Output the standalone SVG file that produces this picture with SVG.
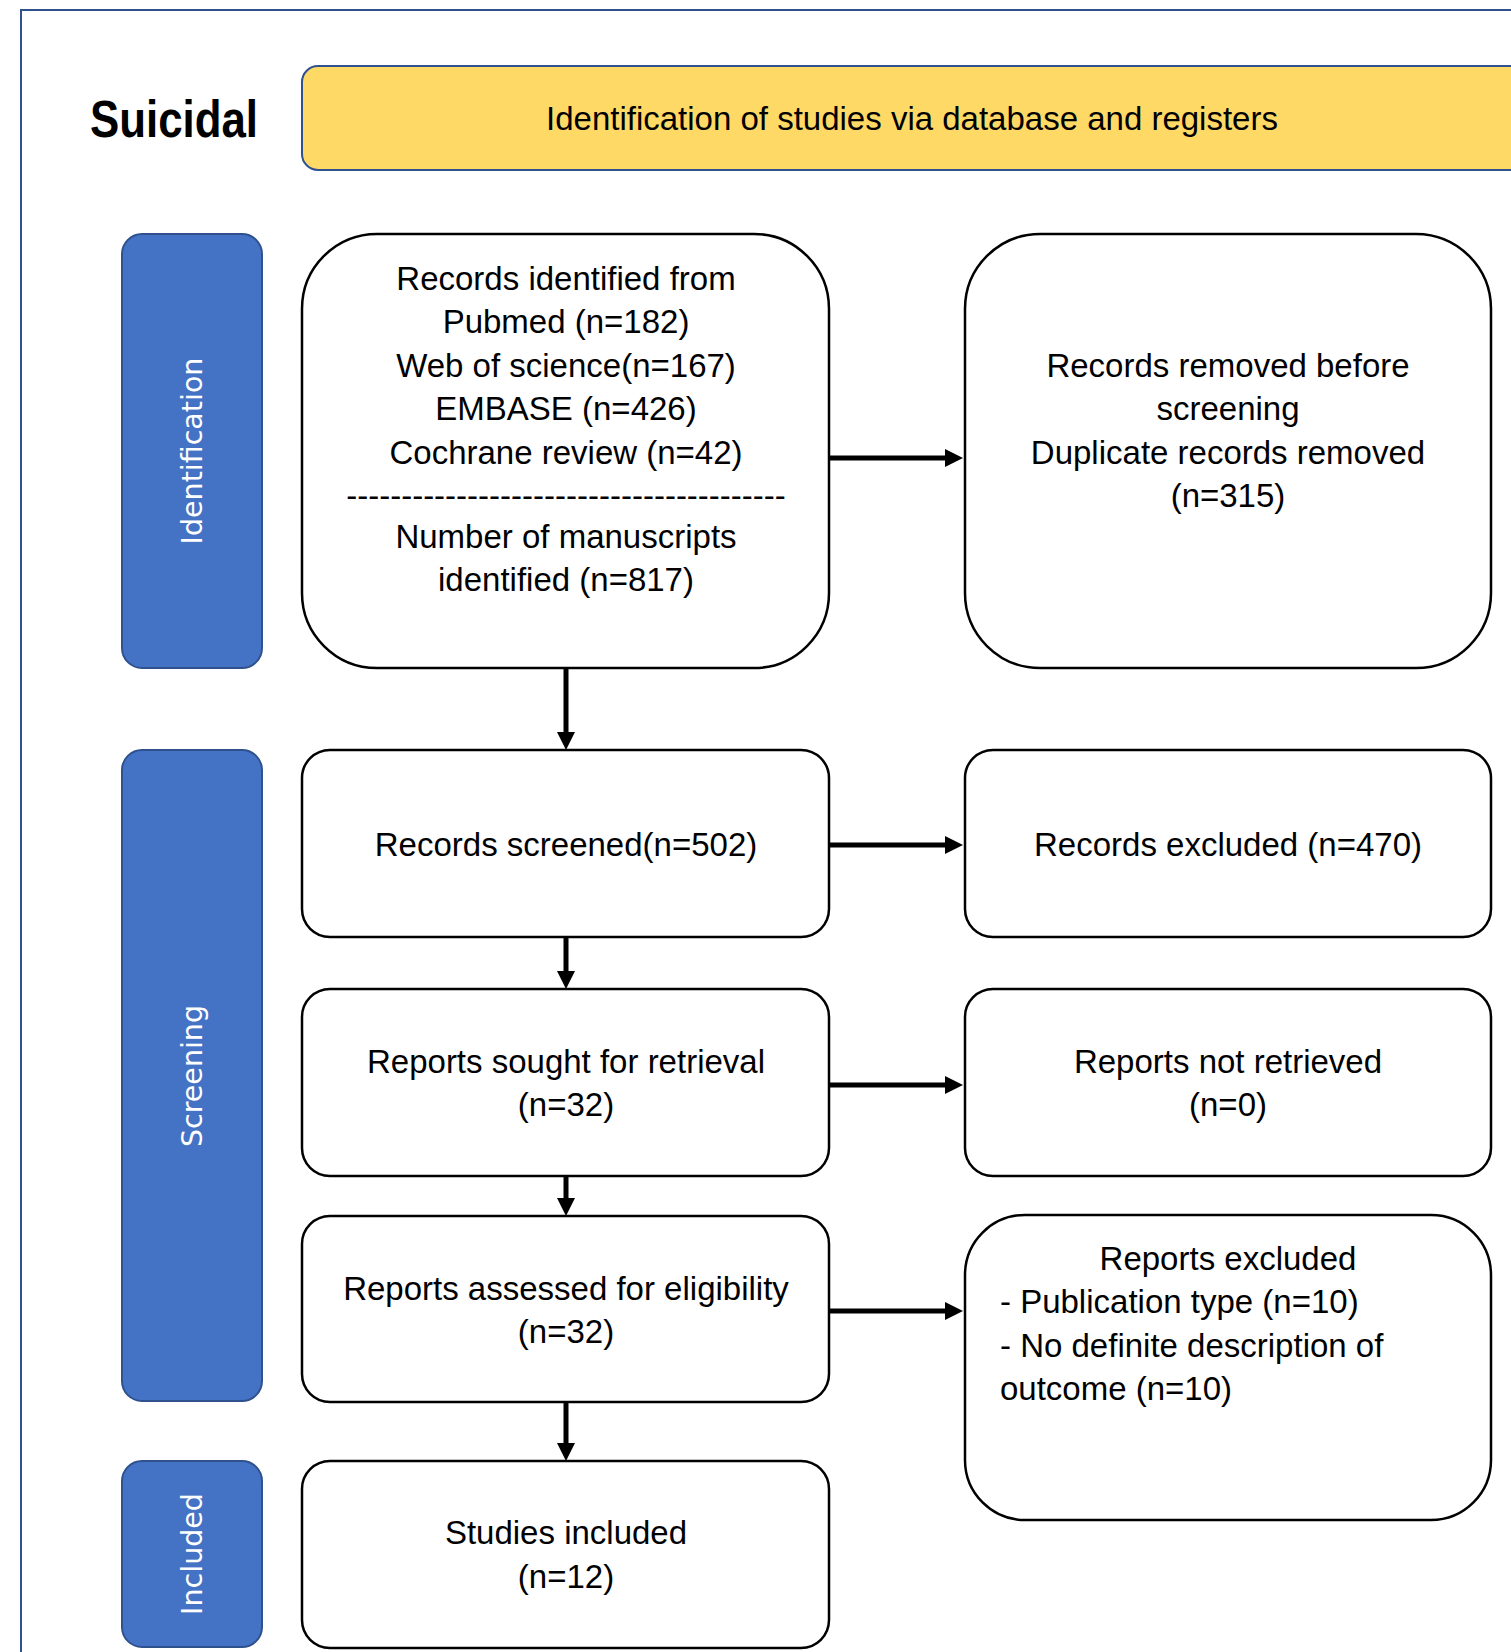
<svg xmlns="http://www.w3.org/2000/svg" width="1511" height="1652" viewBox="0 0 1511 1652">
<style>
.t{font-family:"Liberation Sans",Arial,sans-serif;font-size:33px;fill:#000}
.c{text-anchor:middle}
.box{fill:#fff;stroke:#000;stroke-width:2.5}
.side{fill:#4472C4;stroke:#2F528F;stroke-width:2}
.st{font-family:"DejaVu Sans",sans-serif;font-size:28.5px;fill:#fff;text-anchor:middle}
.conn{stroke:#000;stroke-width:5;fill:none}
</style>
<defs>
<marker id="ah" markerUnits="userSpaceOnUse" markerWidth="18" markerHeight="18" refX="1" refY="9" orient="auto">
<path d="M0,0 L18,9 L0,18 z" fill="#000"/>
</marker>
</defs>
<rect x="0" y="0" width="1511" height="1652" fill="#fff"/>
<rect x="21" y="10" width="1600" height="1700" fill="none" stroke="#2F528F" stroke-width="2"/>
<g id="title">
<text x="174" y="137" text-anchor="middle" font-family="Liberation Sans,Arial,sans-serif" font-weight="bold" font-size="52" textLength="168" lengthAdjust="spacingAndGlyphs">Suicidal</text>
</g>
<g id="header">
<rect x="302" y="66" width="1260" height="104" rx="16" fill="#FFD966" stroke="#2F528F" stroke-width="2"/>
<text class="t c" x="912" y="130">Identification of studies via database and registers</text>
</g>
<g id="side-identification">
<rect class="side" x="122" y="234" width="140" height="434" rx="20"/>
<text class="st" transform="translate(202,451) rotate(-90)">Identification</text>
</g>
<g id="side-screening">
<rect class="side" x="122" y="750" width="140" height="651" rx="20"/>
<text class="st" transform="translate(202,1076) rotate(-90)">Screening</text>
</g>
<g id="side-included">
<rect class="side" x="122" y="1461" width="140" height="186" rx="20"/>
<text class="st" transform="translate(202,1554) rotate(-90)">Included</text>
</g>
<g id="records-identified">
<rect class="box" x="302" y="234" width="527" height="434" rx="75"/>
<text class="t c" x="566" y="290">Records identified from</text>
<text class="t c" x="566" y="333.4">Pubmed (n=182)</text>
<text class="t c" x="566" y="376.8">Web of science(n=167)</text>
<text class="t c" x="566" y="420.2">EMBASE (n=426)</text>
<text class="t c" x="566" y="463.6">Cochrane review (n=42)</text>
<text class="t c" x="566" y="507">----------------------------------------</text>
<text class="t c" x="566" y="548">Number of manuscripts</text>
<text class="t c" x="566" y="591.4">identified (n=817)</text>
</g>
<g id="records-removed">
<rect class="box" x="965" y="234" width="526" height="434" rx="75"/>
<text class="t c" x="1228" y="376.8">Records removed before</text>
<text class="t c" x="1228" y="420.2">screening</text>
<text class="t c" x="1228" y="463.6">Duplicate records removed</text>
<text class="t c" x="1228" y="507">(n=315)</text>
</g>
<g id="records-screened">
<rect class="box" x="302" y="750" width="527" height="187" rx="28"/>
<text class="t c" x="566" y="856">Records screened(n=502)</text>
</g>
<g id="records-excluded">
<rect class="box" x="965" y="750" width="526" height="187" rx="28"/>
<text class="t c" x="1228" y="856">Records excluded (n=470)</text>
</g>
<g id="reports-sought">
<rect class="box" x="302" y="989" width="527" height="187" rx="28"/>
<text class="t c" x="566" y="1073">Reports sought for retrieval</text>
<text class="t c" x="566" y="1116">(n=32)</text>
</g>
<g id="reports-not-retrieved">
<rect class="box" x="965" y="989" width="526" height="187" rx="28"/>
<text class="t c" x="1228" y="1073">Reports not retrieved</text>
<text class="t c" x="1228" y="1116">(n=0)</text>
</g>
<g id="reports-assessed">
<rect class="box" x="302" y="1216" width="527" height="186" rx="28"/>
<text class="t c" x="566" y="1300">Reports assessed for eligibility</text>
<text class="t c" x="566" y="1343">(n=32)</text>
</g>
<g id="reports-excluded">
<rect class="box" x="965" y="1215" width="526" height="305" rx="60"/>
<text class="t c" x="1228" y="1270">Reports excluded</text>
<text class="t" x="1000" y="1313.4">- Publication type (n=10)</text>
<text class="t" x="1000" y="1356.8">- No definite description of</text>
<text class="t" x="1000" y="1400.2">outcome (n=10)</text>
</g>
<g id="studies-included">
<rect class="box" x="302" y="1461" width="527" height="187" rx="28"/>
<text class="t c" x="566" y="1544">Studies included</text>
<text class="t c" x="566" y="1588">(n=12)</text>
</g>
<g id="connectors">
<line class="conn" x1="829" y1="458" x2="946" y2="458" marker-end="url(#ah)"/>
<line class="conn" x1="829" y1="845" x2="946" y2="845" marker-end="url(#ah)"/>
<line class="conn" x1="829" y1="1085" x2="946" y2="1085" marker-end="url(#ah)"/>
<line class="conn" x1="829" y1="1311" x2="946" y2="1311" marker-end="url(#ah)"/>
<line class="conn" x1="566" y1="668" x2="566" y2="733" marker-end="url(#ah)"/>
<line class="conn" x1="566" y1="937" x2="566" y2="972" marker-end="url(#ah)"/>
<line class="conn" x1="566" y1="1176" x2="566" y2="1199" marker-end="url(#ah)"/>
<line class="conn" x1="566" y1="1402" x2="566" y2="1444" marker-end="url(#ah)"/>
</g>
</svg>
